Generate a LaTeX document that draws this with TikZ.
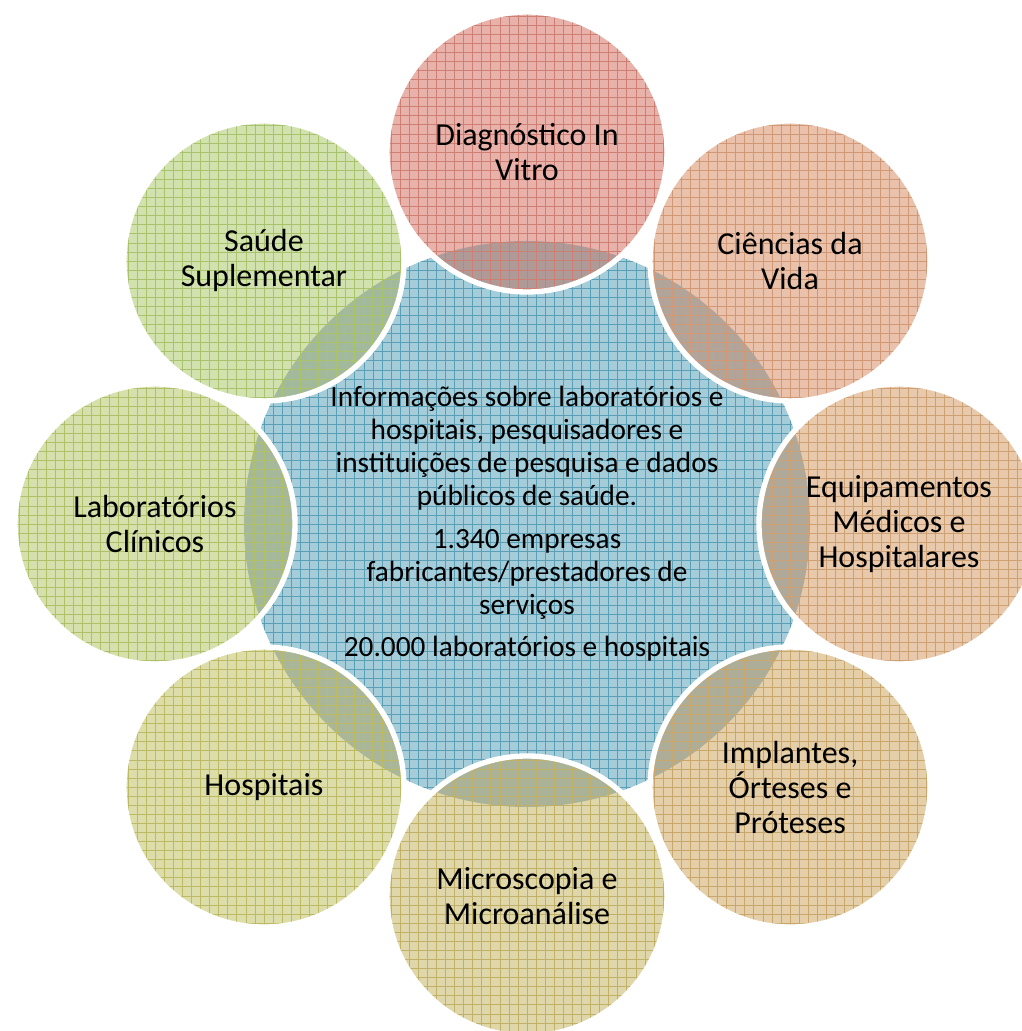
\documentclass[tikz,border=0pt]{standalone}
\usepackage{fontspec}
\setmainfont{Carlito}
\usepackage{tikz}

\definecolor{fillhub}{HTML}{A4CDD9}
\definecolor{gridhub}{HTML}{5A9FB5}
\definecolor{filldiag}{HTML}{E8B2AA}
\definecolor{griddiag}{HTML}{CD7F73}
\definecolor{fillcien}{HTML}{EAC2AC}
\definecolor{gridcien}{HTML}{D19876}
\definecolor{fillequip}{HTML}{E8C9AB}
\definecolor{gridequip}{HTML}{CEA174}
\definecolor{fillimpl}{HTML}{E5CFA8}
\definecolor{gridimpl}{HTML}{C9A76C}
\definecolor{fillmicro}{HTML}{DFD7A9}
\definecolor{gridmicro}{HTML}{C0B068}
\definecolor{fillhosp}{HTML}{DCDDA9}
\definecolor{gridhosp}{HTML}{BCBA64}
\definecolor{filllab}{HTML}{D6E0AD}
\definecolor{gridlab}{HTML}{B0C068}
\definecolor{fillsaude}{HTML}{D2E2AF}
\definecolor{gridsaude}{HTML}{A8C36C}
\definecolor{overlap}{HTML}{4A6E78}

\begin{document}
\begin{tikzpicture}[x=0.75pt, y=0.75pt,
    grid lines/.style={line width=0.45pt, step=6.8pt},
    ring label/.style={align=center, font=\fontsize{24}{26.25}\selectfont},
    hub label/.style={align=center, font=\fontsize{22}{24.75}\selectfont}]
    \useasboundingbox (0,0) rectangle (1021,1031);
    \coordinate (hub) at (527,507);

    % Central circle
    \fill[fillhub] (hub) circle (283);
    \begin{scope}[shift={(hub)}]
        \clip (0,0) circle (283);
        \draw[grid lines, gridhub] (-284,-284) grid (284,284);
    \end{scope}

    % Surrounding circles
    \foreach \ang/\nm/\tone/\txt in {
        90/diag/diag/{Diagnóstico In\\Vitro},
        45/cien/cien/{Ciências da\\Vida},
        0/equip/equip/{Equipamentos\\Médicos e\\Hospitalares},
        -45/impl/impl/{Implantes,\\Órteses e\\Próteses},
        -90/micro/micro/{Microscopia e\\Microanálise},
        225/hosp/hosp/{Hospitais},
        180/lab/lab/{Laboratórios\\Clínicos},
        135/saude/saude/{Saúde\\Suplementar}}{
        \path (hub) ++(\ang:372) coordinate (\nm);
        \fill[fill\tone] (\nm) circle (140);
        \begin{scope}
            \clip (hub) circle (283);
            \fill[overlap, fill opacity=0.35] (\nm) circle (140);
        \end{scope}
        \begin{scope}[shift={(\nm)}]
            \clip (0,0) circle (140);
            \draw[grid lines, grid\tone] (-141,-141) grid (141,141);
        \end{scope}
        \draw[white, line width=4pt] (\nm) circle (140);
        \node[ring label] (\nm-text) at (\nm) {\txt};
    }

    % Central text
    \node[hub label] (info) at (hub) {Informações sobre laboratórios e\\
        hospitais, pesquisadores e\\
        instituições de pesquisa e dados\\
        públicos de saúde.\\[7pt]
        1.340 empresas\\
        fabricantes/prestadores de\\
        serviços\\[7pt]
        20.000 laboratórios e hospitais};
\end{tikzpicture}
\end{document}
